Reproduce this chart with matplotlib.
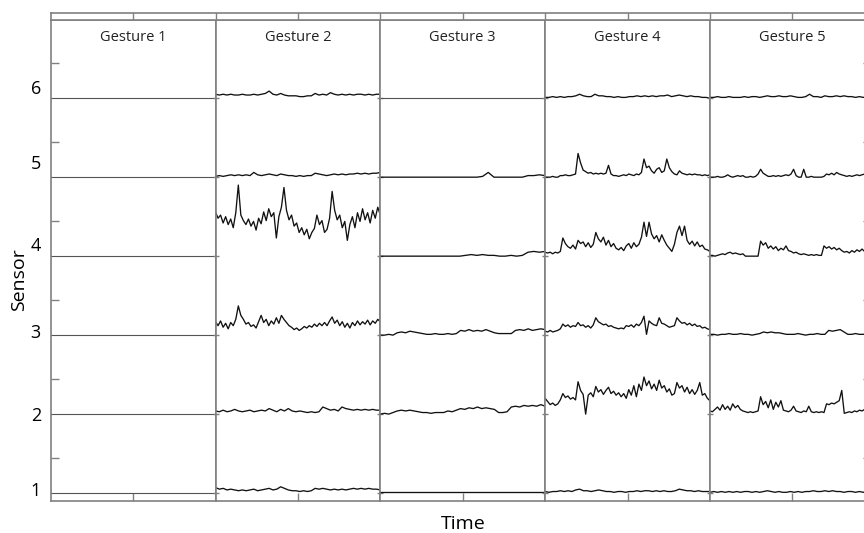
import numpy as np
import matplotlib.pyplot as plt

plt.rcParams['font.family'] = ['Open Sans', 'DejaVu Sans']

gestures = ["Gesture 1", "Gesture 2", "Gesture 3", "Gesture 4", "Gesture 5"]
sensors = [1, 2, 3, 4, 5, 6]

# offsets above each sensor baseline (sensor units)
g1_s1 = [0.0, 0.0]
g1_s2 = [0.0, 0.0]
g1_s3 = [0.0, 0.0]
g1_s4 = [0.0, 0.0]
g1_s5 = [0.0, 0.0]
g1_s6 = [0.0, 0.0]

g2_s1 = [0.07, 0.05, 0.06, 0.04, 0.05, 0.04, 0.03, 0.04, 0.03, 0.04, 0.05, 0.03, 0.04, 0.05, 0.06,
         0.04, 0.05, 0.08, 0.06, 0.04, 0.03, 0.03, 0.02, 0.03, 0.02, 0.03, 0.06, 0.05, 0.06, 0.05,
         0.04, 0.05, 0.04, 0.05, 0.04, 0.05, 0.06, 0.05, 0.06, 0.05, 0.06, 0.05, 0.05, 0.04]
g2_s2 = [0.04, 0.03, 0.05, 0.03, 0.04, 0.06, 0.04, 0.03, 0.04, 0.05, 0.03, 0.04, 0.05, 0.04, 0.07,
         0.05, 0.03, 0.06, 0.04, 0.07, 0.04, 0.03, 0.04, 0.03, 0.02, 0.03, 0.02, 0.03, 0.09, 0.07,
         0.05, 0.06, 0.04, 0.09, 0.07, 0.06, 0.05, 0.06, 0.05, 0.06, 0.05, 0.06, 0.05, 0.05]
g2_s3 = [0.17, 0.12, 0.18, 0.10, 0.15, 0.08, 0.16, 0.12, 0.20, 0.37, 0.25, 0.20, 0.14, 0.16, 0.11,
         0.13, 0.09, 0.17, 0.25, 0.16, 0.20, 0.12, 0.18, 0.14, 0.22, 0.15, 0.25, 0.20, 0.16, 0.12,
         0.10, 0.07, 0.09, 0.06, 0.08, 0.11, 0.09, 0.12, 0.10, 0.14, 0.11, 0.15, 0.12, 0.16, 0.12,
         0.18, 0.23, 0.15, 0.19, 0.12, 0.17, 0.10, 0.15, 0.09, 0.16, 0.12, 0.18, 0.13, 0.17, 0.14,
         0.19, 0.13, 0.18, 0.15, 0.20, 0.17]
g2_s4 = [0.56, 0.48, 0.52, 0.42, 0.50, 0.40, 0.47, 0.36, 0.55, 0.90, 0.52, 0.45, 0.40, 0.47, 0.38,
         0.44, 0.33, 0.48, 0.41, 0.56, 0.45, 0.60, 0.50, 0.55, 0.23, 0.50, 0.62, 0.87, 0.58, 0.46,
         0.52, 0.38, 0.42, 0.30, 0.36, 0.27, 0.34, 0.22, 0.30, 0.35, 0.52, 0.40, 0.45, 0.30, 0.34,
         0.48, 0.82, 0.58, 0.46, 0.52, 0.36, 0.44, 0.20, 0.40, 0.50, 0.36, 0.55, 0.44, 0.60, 0.46,
         0.55, 0.42, 0.58, 0.48, 0.62, 0.52]
g2_s5 = [0.01, 0.02, 0.01, 0.02, 0.03, 0.02, 0.03, 0.02, 0.03, 0.02, 0.06, 0.03, 0.02, 0.03, 0.04,
         0.03, 0.02, 0.04, 0.03, 0.02, 0.02, 0.01, 0.02, 0.01, 0.02, 0.02, 0.05, 0.04, 0.03, 0.02,
         0.03, 0.04, 0.03, 0.04, 0.03, 0.04, 0.04, 0.05, 0.04, 0.05, 0.04, 0.05, 0.05, 0.06]
g2_s6 = [0.05, 0.04, 0.05, 0.04, 0.05, 0.04, 0.04, 0.05, 0.04, 0.04, 0.05, 0.04, 0.05, 0.06, 0.09,
         0.05, 0.04, 0.06, 0.04, 0.03, 0.03, 0.03, 0.02, 0.02, 0.03, 0.03, 0.06, 0.04, 0.05, 0.04,
         0.07, 0.05, 0.04, 0.05, 0.04, 0.05, 0.04, 0.05, 0.05, 0.04, 0.05, 0.04, 0.05, 0.05]

g3_s1 = [0.01, 0.01]
g3_s2 = [0.0, 0.01, 0.0, 0.02, 0.04, 0.05, 0.04, 0.05, 0.04, 0.03, 0.02, 0.02, 0.01, 0.02, 0.02,
         0.02, 0.04, 0.03, 0.05, 0.07, 0.06, 0.08, 0.07, 0.09, 0.07, 0.08, 0.07, 0.06, 0.02, 0.02,
         0.03, 0.09, 0.10, 0.09, 0.11, 0.10, 0.11, 0.10, 0.12, 0.10]
g3_s3 = [0.0, 0.0, 0.01, 0.0, 0.03, 0.04, 0.03, 0.05, 0.04, 0.03, 0.02, 0.01, 0.01, 0.02, 0.01,
         0.01, 0.02, 0.01, 0.02, 0.06, 0.05, 0.07, 0.05, 0.06, 0.05, 0.07, 0.05, 0.03, 0.02, 0.02,
         0.02, 0.02, 0.06, 0.07, 0.06, 0.08, 0.06, 0.07, 0.08, 0.07]
g3_s4 = [0.0, 0.0, 0.0, 0.0, 0.0, 0.0, 0.0, 0.0, 0.0, 0.0, 0.0, 0.0, 0.0, 0.0, 0.0,
         0.01, 0.02, 0.01, 0.02, 0.01, 0.01, 0.0, 0.0, 0.01, 0.0, 0.01, 0.05, 0.06, 0.05, 0.06]
g3_s5 = [0.0, 0.0, 0.0, 0.0, 0.0, 0.0, 0.0, 0.0, 0.0, 0.0, 0.0, 0.0, 0.0, 0.0, 0.0,
         0.0, 0.0, 0.0, 0.01, 0.06, 0.0, 0.0, 0.0, 0.0, 0.0, 0.0, 0.02, 0.02, 0.03, 0.02]
g3_s6 = [0.0, 0.0]

g4_s1 = [0.02, 0.01, 0.02, 0.02, 0.03, 0.02, 0.03, 0.02, 0.04, 0.05, 0.03, 0.03, 0.02, 0.03, 0.04,
         0.03, 0.02, 0.02, 0.01, 0.02, 0.02, 0.01, 0.02, 0.02, 0.03, 0.02, 0.03, 0.03, 0.02, 0.03,
         0.02, 0.03, 0.02, 0.02, 0.03, 0.05, 0.04, 0.03, 0.03, 0.02, 0.03, 0.02, 0.02, 0.02]
g4_s2 = [0.20, 0.16, 0.12, 0.14, 0.11, 0.13, 0.18, 0.26, 0.21, 0.23, 0.19, 0.21, 0.18, 0.41, 0.30,
         0.25, 0.00, 0.24, 0.27, 0.22, 0.35, 0.28, 0.31, 0.25, 0.30, 0.34, 0.26, 0.29, 0.24, 0.27,
         0.22, 0.26, 0.20, 0.31, 0.24, 0.36, 0.22, 0.38, 0.30, 0.47, 0.36, 0.42, 0.32, 0.38, 0.30,
         0.43, 0.33, 0.36, 0.28, 0.32, 0.24, 0.26, 0.40, 0.33, 0.36, 0.28, 0.34, 0.26, 0.31, 0.25,
         0.30, 0.40, 0.24, 0.26, 0.20, 0.17]
g4_s3 = [0.05, 0.04, 0.06, 0.04, 0.05, 0.06, 0.08, 0.14, 0.11, 0.13, 0.10, 0.12, 0.11, 0.16, 0.12,
         0.13, 0.10, 0.12, 0.09, 0.13, 0.22, 0.17, 0.15, 0.13, 0.14, 0.11, 0.12, 0.10, 0.09, 0.08,
         0.09, 0.08, 0.12, 0.11, 0.13, 0.10, 0.14, 0.12, 0.16, 0.24, 0.01, 0.18, 0.15, 0.13, 0.12,
         0.22, 0.15, 0.14, 0.12, 0.10, 0.11, 0.12, 0.22, 0.18, 0.15, 0.16, 0.13, 0.15, 0.12, 0.14,
         0.11, 0.12, 0.09, 0.10, 0.08, 0.07]
g4_s4 = [0.05, 0.04, 0.05, 0.03, 0.05, 0.04, 0.06, 0.23, 0.16, 0.12, 0.10, 0.14, 0.09, 0.20, 0.16,
         0.18, 0.12, 0.17, 0.11, 0.15, 0.30, 0.22, 0.18, 0.24, 0.14, 0.20, 0.12, 0.16, 0.10, 0.08,
         0.11, 0.07, 0.13, 0.16, 0.10, 0.17, 0.12, 0.15, 0.24, 0.43, 0.25, 0.43, 0.28, 0.22, 0.26,
         0.18, 0.27, 0.20, 0.14, 0.10, 0.06, 0.15, 0.30, 0.38, 0.26, 0.38, 0.20, 0.15, 0.19, 0.13,
         0.18, 0.12, 0.14, 0.09, 0.08, 0.06]
g4_s5 = [0.0, 0.0, 0.0, 0.01, 0.0, 0.0, 0.02, 0.02, 0.03, 0.02, 0.02, 0.03, 0.04, 0.30, 0.18,
         0.09, 0.07, 0.05, 0.06, 0.04, 0.05, 0.04, 0.05, 0.04, 0.05, 0.15, 0.04, 0.02, 0.02, 0.01,
         0.02, 0.03, 0.02, 0.04, 0.03, 0.02, 0.04, 0.03, 0.06, 0.23, 0.12, 0.14, 0.08, 0.05, 0.10,
         0.12, 0.06, 0.08, 0.23, 0.12, 0.07, 0.04, 0.03, 0.08, 0.05, 0.04, 0.03, 0.04, 0.03, 0.04,
         0.03, 0.03, 0.02, 0.03, 0.02, 0.03]
g4_s6 = [0.01, 0.01, 0.02, 0.01, 0.02, 0.01, 0.02, 0.02, 0.03, 0.05, 0.03, 0.02, 0.02, 0.05, 0.03,
         0.03, 0.02, 0.02, 0.01, 0.02, 0.01, 0.01, 0.02, 0.02, 0.03, 0.02, 0.03, 0.02, 0.03, 0.02,
         0.03, 0.03, 0.04, 0.02, 0.03, 0.04, 0.03, 0.02, 0.03, 0.02, 0.02, 0.01, 0.01, 0.0]

g5_s1 = [0.01, 0.02, 0.01, 0.02, 0.01, 0.02, 0.01, 0.02, 0.01, 0.02, 0.02, 0.01, 0.02, 0.01, 0.02,
         0.03, 0.02, 0.01, 0.02, 0.01, 0.01, 0.02, 0.01, 0.02, 0.01, 0.02, 0.02, 0.03, 0.02, 0.02,
         0.03, 0.02, 0.03, 0.02, 0.02, 0.01, 0.02, 0.02, 0.01, 0.02, 0.01, 0.02, 0.01, 0.02]
g5_s2 = [0.04, 0.03, 0.06, 0.09, 0.05, 0.12, 0.06, 0.10, 0.05, 0.13, 0.08, 0.11, 0.06, 0.04, 0.03,
         0.02, 0.03, 0.02, 0.03, 0.04, 0.22, 0.12, 0.16, 0.08, 0.18, 0.06, 0.15, 0.09, 0.17, 0.05,
         0.04, 0.03, 0.05, 0.10, 0.04, 0.03, 0.02, 0.04, 0.03, 0.10, 0.03, 0.02, 0.03, 0.02, 0.03,
         0.02, 0.13, 0.12, 0.14, 0.13, 0.15, 0.17, 0.30, 0.01, 0.02, 0.03, 0.02, 0.04, 0.03, 0.05,
         0.04, 0.06, 0.05, 0.07, 0.06, 0.07]
g5_s3 = [0.01, 0.01, 0.0, 0.01, 0.01, 0.02, 0.01, 0.01, 0.02, 0.01, 0.01, 0.0, 0.01, 0.02, 0.04,
         0.03, 0.04, 0.03, 0.03, 0.02, 0.01, 0.01, 0.01, 0.02, 0.01, 0.0, 0.01, 0.01, 0.02, 0.01,
         0.01, 0.06, 0.05, 0.06, 0.07, 0.04, 0.01, 0.01, 0.02, 0.01, 0.01, 0.02, 0.01, 0.01]
g5_s4 = [0.01, 0.01, 0.0, 0.01, 0.02, 0.03, 0.02, 0.04, 0.05, 0.03, 0.04, 0.03, 0.02, 0.03, 0.0,
         0.0, 0.0, 0.0, 0.0, 0.0, 0.19, 0.14, 0.17, 0.10, 0.13, 0.09, 0.12, 0.07, 0.10, 0.08,
         0.13, 0.07, 0.06, 0.04, 0.05, 0.03, 0.02, 0.03, 0.02, 0.01, 0.02, 0.01, 0.02, 0.01, 0.01,
         0.13, 0.10, 0.12, 0.09, 0.11, 0.08, 0.10, 0.07, 0.05, 0.06, 0.04, 0.07, 0.05, 0.08, 0.06,
         0.09, 0.06, 0.08, 0.07, 0.09, 0.08]
g5_s5 = [0.0, 0.0, 0.0, 0.01, 0.0, 0.0, 0.01, 0.03, 0.01, 0.0, 0.01, 0.02, 0.01, 0.02, 0.0,
         0.0, 0.01, 0.0, 0.01, 0.04, 0.10, 0.05, 0.03, 0.01, 0.01, 0.02, 0.01, 0.02, 0.01, 0.02,
         0.03, 0.02, 0.04, 0.10, 0.02, 0.0, 0.0, 0.10, 0.0, 0.0, 0.01, 0.0, 0.0, 0.0, 0.0,
         0.01, 0.04, 0.03, 0.05, 0.03, 0.06, 0.04, 0.03, 0.02, 0.01, 0.02, 0.01, 0.02, 0.03, 0.02,
         0.03, 0.04, 0.02, 0.03, 0.02, 0.02]
g5_s6 = [0.01, 0.01, 0.02, 0.01, 0.01, 0.02, 0.01, 0.01, 0.01, 0.02, 0.01, 0.02, 0.02, 0.01, 0.02,
         0.03, 0.02, 0.02, 0.03, 0.02, 0.02, 0.03, 0.02, 0.01, 0.01, 0.02, 0.05, 0.02, 0.02, 0.01,
         0.03, 0.02, 0.02, 0.03, 0.02, 0.03, 0.02, 0.02, 0.01, 0.02, 0.01, 0.02, 0.02, 0.01]

gesture_traces = [
    [g1_s1, g1_s2, g1_s3, g1_s4, g1_s5, g1_s6],
    [g2_s1, g2_s2, g2_s3, g2_s4, g2_s5, g2_s6],
    [g3_s1, g3_s2, g3_s3, g3_s4, g3_s5, g3_s6],
    [g4_s1, g4_s2, g4_s3, g4_s4, g4_s5, g4_s6],
    [g5_s1, g5_s2, g5_s3, g5_s4, g5_s5, g5_s6],
]

W, H = 864, 533
fig = plt.figure(figsize=(W / 100, H / 100), dpi=100)

frame = '#808080'
left_px, panel_px = 50.7, 164.8
top_px, bottom_px = 20, 501

for gi, traces in enumerate(gesture_traces):
    ax = fig.add_axes([(left_px + gi * panel_px) / W, (H - bottom_px) / H,
                       panel_px / W, (bottom_px - top_px) / H])
    for s, vals in zip(sensors, traces):
        x = np.linspace(0, 1, len(vals))
        flat = max(vals) == 0
        ax.plot(x, s + np.array(vals), color='#555555' if flat else '#111111',
                lw=0.8 if flat else 0.95)
    ax.set_xlim(0, 1)
    ax.set_ylim(0.9, 6.99)
    for sp in ax.spines.values():
        sp.set_color(frame)
        sp.set_linewidth(1.2)
    ax.set_xticks([0.5])
    ax.set_xticklabels([])
    ax.tick_params(axis='x', direction='in', length=6, color=frame, width=1.0)
    ax.text(0.5, 0.9636, gestures[gi], transform=ax.transAxes, ha='center', va='center',
            fontsize=10.5, color='#222222')
    if gi == 0:
        ax.set_yticks([s + 0.45 for s in sensors], minor=True)
        ax.set_yticks([1.05, 2.0, 3.05, 4.16, 5.19, 6.14])
        ax.set_yticklabels([str(s) for s in sensors], fontsize=13)
        ax.tick_params(axis='y', which='major', length=0, pad=7)
        ax.tick_params(axis='y', which='minor', direction='in', length=6, color=frame, width=1.0)
    else:
        ax.set_yticks(sensors)
        ax.set_yticklabels([])
        ax.tick_params(axis='y', direction='inout', length=4, color=frame, width=1.0)
        if gi == 4:
            ax.set_yticks([s + 0.45 for s in sensors], minor=True)
            ax.tick_params(axis='y', which='minor', right=True, left=False,
                           direction='in', length=9, color=frame, width=1.0)

# thin strip above the panels
strip = fig.add_axes([left_px / W, (H - top_px) / H, 5 * panel_px / W, 7 / H])
strip.set_xlim(0, 10)
strip.set_ylim(0, 1)
for k in range(1, 10):
    strip.axvline(k, color=frame, lw=1.0)
strip.set_xticks([])
strip.set_yticks([])
for sp in strip.spines.values():
    sp.set_color(frame)
    sp.set_linewidth(1.2)

fig.text(19 / W, 1 - 280 / H, 'Sensor', rotation=90, fontsize=14, ha='center', va='center')
fig.text(463 / W, 1 - 524 / H, 'Time', fontsize=14, ha='center', va='center')

fig.savefig('out.png', dpi=100)
